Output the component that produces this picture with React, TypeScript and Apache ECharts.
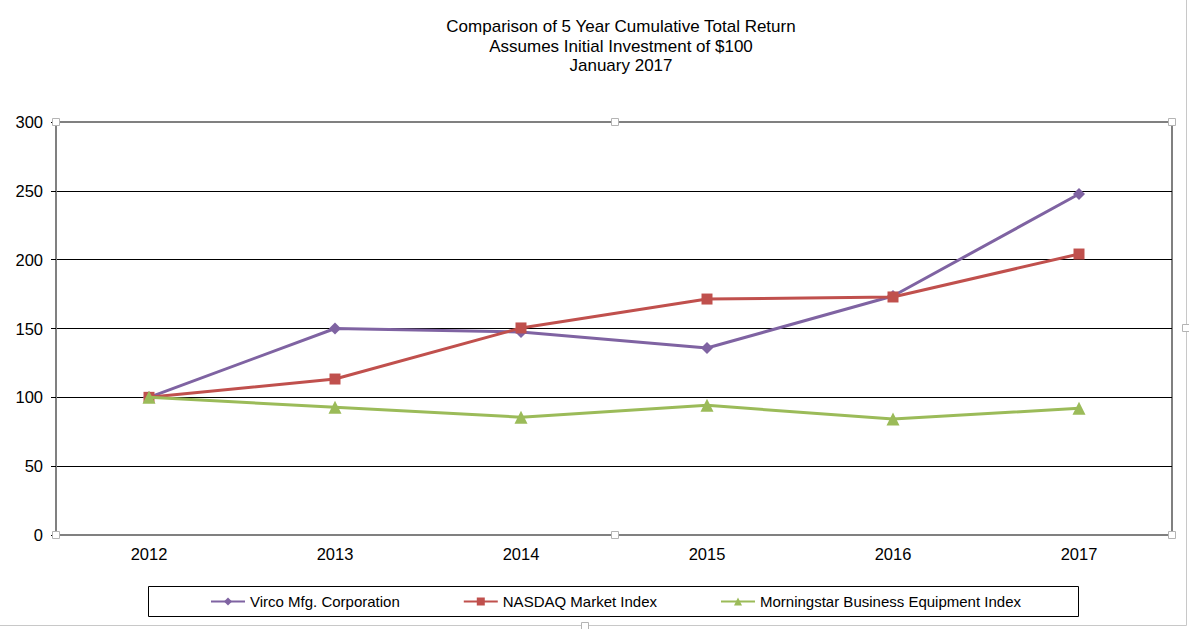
import React, { useEffect, useRef } from "react";
import * as echarts from "echarts";

const categories = ["2012", "2013", "2014", "2015", "2016", "2017"];
const virco = [100, 150, 147.5, 135.8, 173.6, 247.7];
const nasdaq = [100, 113.3, 150.4, 171.4, 172.9, 204.1];
const morningstar = [100, 92.8, 85.6, 94.2, 84.2, 92.0];
const seriesNames = [
  "Virco Mfg. Corporation",
  "NASDAQ Market Index",
  "Morningstar Business Equipment Index",
];
const titleLines = [
  "Comparison of 5 Year Cumulative Total Return",
  "Assumes Initial Investment of $100",
  "January 2017",
];

const FONT = "Liberation Sans, Arial, sans-serif";

export default function App() {
  const ref = useRef<HTMLDivElement>(null);
  useEffect(() => {
    if (!ref.current) return;
    const chart = echarts.init(ref.current, null, { renderer: "svg" });
    const handle = (x: number, y: number) => ({
      type: "rect",
      shape: { x: x - 3.5, y: y - 3.5, width: 7, height: 7 },
      style: { fill: "#fff", stroke: "#b4b4b4", lineWidth: 1 },
      z: 100,
    });
    chart.setOption({
      animation: false,
      backgroundColor: "#fff",
      textStyle: { fontFamily: FONT },
      title: {
        text: titleLines.join("\n"),
        left: 616,
        top: 12,
        textAlign: "center",
        textStyle: {
          fontFamily: FONT,
          fontSize: 17,
          fontWeight: "normal",
          color: "#000",
          lineHeight: 19.5,
        },
      },
      grid: {
        left: 56,
        right: 17,
        top: 122,
        bottom: 94,
        show: true,
        borderColor: "#808080",
        borderWidth: 2,
        backgroundColor: "#fff",
      },
      legend: {
        data: seriesNames,
        left: 205,
        top: 589,
        itemGap: 63,
        itemWidth: 34,
        itemHeight: 10,
        textStyle: { fontFamily: FONT, fontSize: 15, color: "#000" },
      },
      xAxis: {
        type: "category",
        data: categories,
        boundaryGap: true,
        axisLine: { lineStyle: { color: "#808080", width: 2 } },
        axisTick: {
          alignWithLabel: true,
          inside: true,
          length: 4,
          lineStyle: { color: "#808080", width: 1 },
        },
        axisLabel: { fontFamily: FONT, fontSize: 16.5, color: "#000", margin: 10 },
      },
      yAxis: {
        type: "value",
        min: 0,
        max: 300,
        interval: 50,
        axisLine: { show: true, lineStyle: { color: "#808080", width: 2 } },
        axisTick: { show: true, length: 5, lineStyle: { color: "#000", width: 1 } },
        axisLabel: { fontFamily: FONT, fontSize: 16.5, color: "#000", margin: 13 },
        splitLine: {
          show: true,
          lineStyle: {
            color: ["transparent", "#000", "#000", "#000", "#000", "#000", "transparent"],
            width: 1,
          },
        },
      },
      series: [
        {
          name: seriesNames[0],
          type: "line",
          data: virco,
          symbol: "diamond",
          symbolSize: 12,
          itemStyle: { color: "#7F63A2" },
          lineStyle: { color: "#7F63A2", width: 3 },
          z: 3,
        },
        {
          name: seriesNames[1],
          type: "line",
          data: nasdaq,
          symbol: "rect",
          symbolSize: 11,
          itemStyle: { color: "#C0504D" },
          lineStyle: { color: "#C0504D", width: 3 },
          z: 4,
        },
        {
          name: seriesNames[2],
          type: "line",
          data: morningstar,
          symbol: "triangle",
          symbolSize: 13,
          itemStyle: { color: "#9BBB59" },
          lineStyle: { color: "#9BBB59", width: 3 },
          z: 5,
        },
      ],
      graphic: [
        {
          type: "rect",
          shape: { x: 148.5, y: 586.5, width: 930, height: 30 },
          style: { fill: "none", stroke: "#000", lineWidth: 1 },
          z: 1,
        },
        {
          type: "line",
          shape: { x1: 1186.5, y1: 0, x2: 1186.5, y2: 625.5 },
          style: { stroke: "#c8c8c8", lineWidth: 1 },
        },
        {
          type: "line",
          shape: { x1: 0, y1: 625.5, x2: 1186.5, y2: 625.5 },
          style: { stroke: "#c8c8c8", lineWidth: 1 },
        },
        handle(56, 122),
        handle(615, 122),
        handle(1172, 122),
        handle(56, 535),
        handle(615, 535),
        handle(1172, 535),
        handle(1186, 328),
        handle(585, 626),
      ],
    });
    return () => chart.dispose();
  }, []);
  return (
    <div
      ref={ref}
      style={{ position: "absolute", left: 0, top: 0, width: 1189, height: 629 }}
    />
  );
}
